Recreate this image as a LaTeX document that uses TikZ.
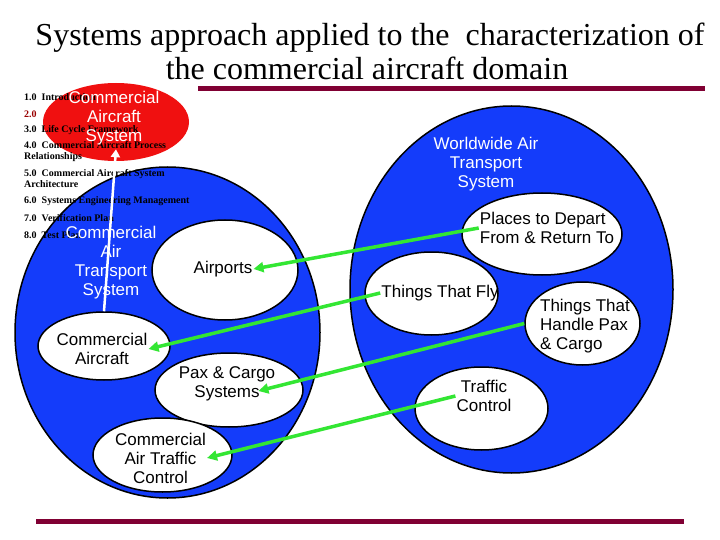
\documentclass[tikz,border=0pt]{standalone}
\usepackage{fontspec}
\setmainfont{Liberation Serif}
\newfontfamily\arialfont{Liberation Sans}
\usetikzlibrary{shapes.geometric,arrows.meta}
\definecolor{bb}{RGB}{20, 60, 250}
\definecolor{rr}{RGB}{240, 16, 16}
\definecolor{gg}{RGB}{51, 230, 51}
\definecolor{mm}{RGB}{128, 0, 51}
\definecolor{dr}{RGB}{153, 0, 0}

\begin{document}
\begin{tikzpicture}[
  big/.style={ellipse, inner sep=0pt, fill=bb, draw=black, line width=1.5pt},
  small/.style={ellipse, inner sep=0pt, fill=white, draw=black, line width=1.5pt},
  lbl/.style={font=\arialfont\fontsize{17}{19}\selectfont, align=center, inner sep=1pt},
  item/.style={anchor=west, align=left, inner sep=0pt, font=\bfseries\fontsize{10}{11}\selectfont},
  link/.style={color=gg, line width=3.5pt, -{Triangle[length=10pt, width=10pt]}}
]
\useasboundingbox (0pt, 0pt) rectangle (720pt, -540pt);
\node (h1) [anchor=base, font=\fontsize{32}{34}\selectfont] at (370pt, -46pt) {Systems approach applied to the\ \ characterization of};
\node (h2) [anchor=base, font=\fontsize{32}{34}\selectfont] at (367pt, -80pt) {the commercial aircraft domain};
\draw [mm, line width=5pt] (198pt, -89pt) -- (705pt, -89pt);
\draw [mm, line width=5pt] (36pt, -521pt) -- (684pt, -521pt);
\node (1) [big, minimum width=305pt, minimum height=331pt] at (167.5pt, -332.5pt) {};
\node (2) [big, minimum width=323pt, minimum height=367pt] at (511.5pt, -289.5pt) {};
\node (3) [ellipse, inner sep=0pt, fill=rr, minimum width=146pt, minimum height=78pt] at (116pt, -122pt) {};
\node (4) [small, minimum width=146pt, minimum height=100pt] at (225pt, -270pt) {};
\node (5) [small, minimum width=132pt, minimum height=68pt] at (104pt, -346pt) {};
\node (6) [small, minimum width=148pt, minimum height=74pt] at (229pt, -390pt) {};
\node (7) [small, minimum width=139pt, minimum height=74pt] at (162.5pt, -455pt) {};
\node (8) [small, minimum width=160pt, minimum height=82pt] at (542pt, -234pt) {};
\node (9) [small, minimum width=133pt, minimum height=83pt] at (431.5pt, -293.5pt) {};
\node (10) [small, minimum width=115pt, minimum height=83pt] at (582.5pt, -323.5pt) {};
\node (11) [small, minimum width=133pt, minimum height=83pt] at (481.5pt, -408.5pt) {};
\node (i1) [item] at (24pt, -97pt) {1.0~ Introduction};
\node (i2) [item, color=dr] at (24pt, -114pt) {2.0};
\node (i3) [item] at (24pt, -130pt) {3.0~ Life Cycle Framework};
\node (i4) [item] at (24pt, -152pt) {4.0~ Commercial Aircraft Process\\Relationships};
\node (i5) [item] at (24pt, -178.5pt) {5.0~ Commercial Aircraft System\\Architecture};
\node (i6) [item] at (24pt, -201pt) {6.0~ Systems Engineering Management};
\node (i7) [item] at (24pt, -218pt) {7.0~ Verification Plan};
\node (i8) [item] at (24pt, -235pt) {8.0~ Test Plan};
\node (t3) [lbl, white] at (114pt, -118pt) {Commercial\\Aircraft\\System};
\node (t1) [lbl, white] at (111pt, -263pt) {Commercial\\Air\\Transport\\System};
\node (t2) [lbl, white] at (486pt, -164pt) {Worldwide Air\\Transport\\System};
\node (t4) [lbl] at (223pt, -269pt) {Airports};
\node (t5) [lbl] at (102pt, -349pt) {Commercial\\Aircraft};
\node (t6) [lbl] at (227pt, -384pt) {Pax \& Cargo\\Systems};
\node (t7) [lbl] at (160.5pt, -458pt) {Commercial\\Air Traffic\\Control};
\node (t8) [lbl, align=left] at (547pt, -228pt) {Places to Depart\\From \& Return To};
\node (t9) [lbl] at (440pt, -293pt) {Things That Fly};
\node (t10) [lbl, align=left] at (585pt, -326pt) {Things That\\Handle Pax\\\& Cargo};
\node (t11) [lbl] at (484pt, -396pt) {Traffic\\Control};
\draw [white, line width=2.5pt, -{Triangle[length=8pt, width=9pt]}] (5.north) -- ([yshift=12pt]3.south);
\draw [link] (t8.west) -- (t4.east);
\draw [link] (t9.west) -- (t5.east);
\draw [link] (10.west) -- ([xshift=-18pt, yshift=-7pt]t6.east);
\draw [link] (t11.west) -- (t7.east);
\end{tikzpicture}
\end{document}
